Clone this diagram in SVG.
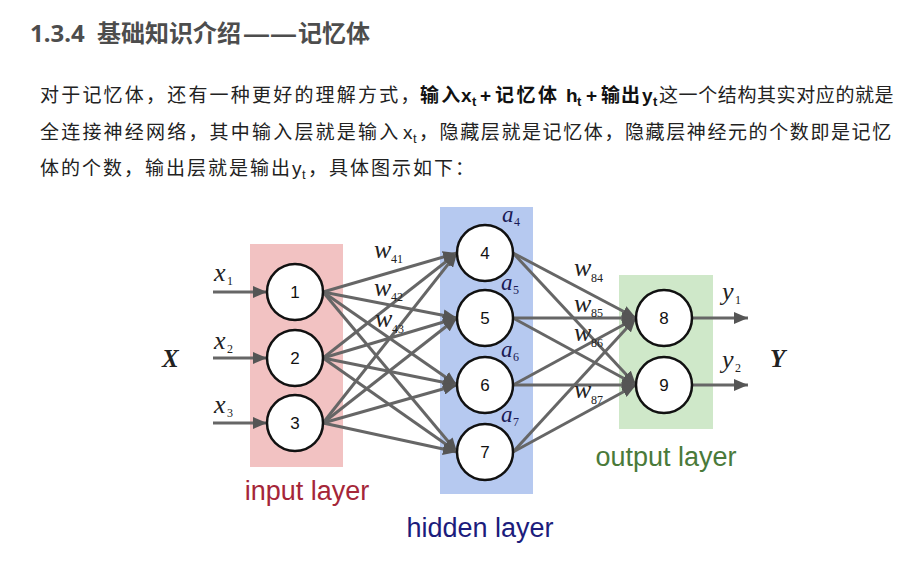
<svg xmlns="http://www.w3.org/2000/svg" width="912" height="578" viewBox="0 0 912 578">
<defs>
<style>
.title{font-family:"Noto Sans","Noto Sans CJK SC",sans-serif;font-size:24px;font-weight:bold;fill:#4d4d4d}
.body{font-family:"Liberation Sans","Noto Sans CJK SC",sans-serif;font-size:19px;fill:#222;letter-spacing:2.2px}
.b{font-weight:bold;fill:#111}
.la{letter-spacing:0}
.sub{font-size:13px;letter-spacing:0}
.node circle{fill:#fff;stroke:#111;stroke-width:2.5}
.node text{font-family:"Liberation Sans",sans-serif;font-size:17px;fill:#111;text-anchor:middle}
.conn line{stroke:#666;stroke-width:3;marker-end:url(#ah)}
.lbl{font-family:"Liberation Serif",serif;font-style:italic;font-size:26px;fill:#222}
.ls{font-style:normal;font-size:12px}
.alb{font-family:"Liberation Serif",serif;font-style:italic;font-size:23px;fill:#1a1a55}
.big{font-family:"Liberation Serif",serif;font-style:italic;font-weight:bold;font-size:25px;fill:#222}
.layer{font-family:"Liberation Sans",sans-serif;font-size:27px;text-anchor:middle}
</style>
<marker id="ah" viewBox="0 0 14 12" refX="14" refY="6" markerWidth="14" markerHeight="12" markerUnits="userSpaceOnUse" orient="auto">
<path d="M0,0 L14,6 L0,12 z" fill="#555"/>
</marker>
</defs>
<rect width="912" height="578" fill="#fff"/>

<text class="title" x="30" y="42">1.3.4<tspan x="97">基础知识介绍</tspan></text>
<text class="title" x="243" y="42" textLength="54" lengthAdjust="spacingAndGlyphs">——</text>
<text class="title" x="298" y="42">记忆体</text>

<text class="body" y="102"><tspan x="40">对于记忆体，还有一种更好的理解方式，</tspan><tspan class="b" x="420">输入</tspan><tspan class="b la" x="461">x</tspan><tspan class="b sub" x="472" y="106">t</tspan><tspan class="b la" x="480" y="102">+</tspan><tspan class="b" x="495" style="letter-spacing:2.5px">记忆体</tspan><tspan class="b la" x="566">h</tspan><tspan class="b sub" x="577" y="106">t</tspan><tspan class="b la" x="586" y="102">+</tspan><tspan class="b" x="601" style="letter-spacing:1px">输出</tspan><tspan class="b la" x="642">y</tspan><tspan class="b sub" x="653" y="106">t</tspan><tspan x="659" y="102" style="letter-spacing:0.6px">这一个结构其实对应的就是</tspan></text>
<text class="body" y="139"><tspan x="40">全连接神经网络，其中输入层就是输入</tspan><tspan class="la" x="403">x</tspan><tspan class="sub" x="413" y="143">t</tspan><tspan x="419" y="139" style="letter-spacing:1.6px">，隐藏层就是记忆体，隐藏层神经元的个数即是记忆</tspan></text>
<text class="body" y="175"><tspan x="40" style="letter-spacing:2px">体的个数，输出层就是输出</tspan><tspan class="la" x="292">y</tspan><tspan class="sub" x="302" y="179">t</tspan><tspan x="308" y="175" style="letter-spacing:2px">，具体图示如下：</tspan></text>

<g id="layers">
<rect x="250" y="244" width="93" height="223" fill="#f2c2c2"/>
<rect x="440" y="207" width="93" height="287" fill="#b6c9f0"/>
<rect x="619" y="275" width="94" height="154" fill="#cfe8c9"/>
<text class="layer" x="307" y="500" fill="#a52638">input layer</text>
<text class="layer" x="480" y="537" fill="#1c1c7c">hidden layer</text>
<text class="layer" x="666" y="466" fill="#4a7a3a">output layer</text>
</g>

<g id="connectors" class="conn">
<line x1="213" y1="292" x2="267" y2="292"/>
<line x1="213" y1="358" x2="267" y2="358"/>
<line x1="213" y1="423" x2="267" y2="423"/>
<line x1="323" y1="292" x2="457" y2="253"/>
<line x1="323" y1="292" x2="457" y2="318"/>
<line x1="323" y1="292" x2="457" y2="385"/>
<line x1="323" y1="292" x2="457" y2="452"/>
<line x1="323" y1="358" x2="457" y2="253"/>
<line x1="323" y1="358" x2="457" y2="318"/>
<line x1="323" y1="358" x2="457" y2="385"/>
<line x1="323" y1="358" x2="457" y2="452"/>
<line x1="323" y1="423" x2="457" y2="253"/>
<line x1="323" y1="423" x2="457" y2="318"/>
<line x1="323" y1="423" x2="457" y2="385"/>
<line x1="323" y1="423" x2="457" y2="452"/>
<line x1="513" y1="253" x2="636" y2="318"/>
<line x1="513" y1="253" x2="636" y2="385"/>
<line x1="513" y1="318" x2="636" y2="318"/>
<line x1="513" y1="318" x2="636" y2="385"/>
<line x1="513" y1="385" x2="636" y2="318"/>
<line x1="513" y1="385" x2="636" y2="385"/>
<line x1="513" y1="452" x2="636" y2="318"/>
<line x1="513" y1="452" x2="636" y2="385"/>
<line x1="692" y1="318" x2="748" y2="318"/>
<line x1="692" y1="385" x2="748" y2="385"/>
</g>

<g id="n1" class="node"><circle cx="295" cy="292" r="28"/><text x="295" y="298">1</text></g>
<g id="n2" class="node"><circle cx="295" cy="358" r="28"/><text x="295" y="364">2</text></g>
<g id="n3" class="node"><circle cx="295" cy="423" r="28"/><text x="295" y="429">3</text></g>
<g id="n4" class="node"><circle cx="485" cy="253" r="28"/><text x="485" y="259">4</text></g>
<g id="n5" class="node"><circle cx="485" cy="318" r="28"/><text x="485" y="324">5</text></g>
<g id="n6" class="node"><circle cx="485" cy="385" r="28"/><text x="485" y="391">6</text></g>
<g id="n7" class="node"><circle cx="485" cy="452" r="28"/><text x="485" y="458">7</text></g>
<g id="n8" class="node"><circle cx="664" cy="318" r="28"/><text x="664" y="324">8</text></g>
<g id="n9" class="node"><circle cx="664" cy="385" r="28"/><text x="664" y="391">9</text></g>

<g id="labels">
<text class="big" x="162" y="367">X</text>
<text class="big" x="770" y="367">Y</text>
<text class="lbl" x="214" y="281">x<tspan class="ls" x="227" y="285">1</tspan></text>
<text class="lbl" x="214" y="349">x<tspan class="ls" x="227" y="353">2</tspan></text>
<text class="lbl" x="214" y="413">x<tspan class="ls" x="227" y="417">3</tspan></text>
<text class="lbl" x="722" y="300">y<tspan class="ls" x="735" y="304">1</tspan></text>
<text class="lbl" x="722" y="368">y<tspan class="ls" x="735" y="372">2</tspan></text>
<text class="lbl" x="374" y="258">w<tspan class="ls" x="391" y="263">41</tspan></text>
<text class="lbl" x="374" y="296">w<tspan class="ls" x="391" y="301">42</tspan></text>
<text class="lbl" x="375" y="327">w<tspan class="ls" x="392" y="333">43</tspan></text>
<text class="lbl" x="574" y="276">w<tspan class="ls" x="591" y="282">84</tspan></text>
<text class="lbl" x="574" y="312">w<tspan class="ls" x="591" y="317">85</tspan></text>
<text class="lbl" x="574" y="341">w<tspan class="ls" x="591" y="347">86</tspan></text>
<text class="lbl" x="574" y="398">w<tspan class="ls" x="591" y="404">87</tspan></text>
<text class="alb" x="502" y="222">a<tspan class="ls" x="514" y="226">4</tspan></text>
<text class="alb" x="501" y="290">a<tspan class="ls" x="513" y="294">5</tspan></text>
<text class="alb" x="501" y="357">a<tspan class="ls" x="513" y="361">6</tspan></text>
<text class="alb" x="501" y="422">a<tspan class="ls" x="513" y="426">7</tspan></text>
</g>
</svg>
